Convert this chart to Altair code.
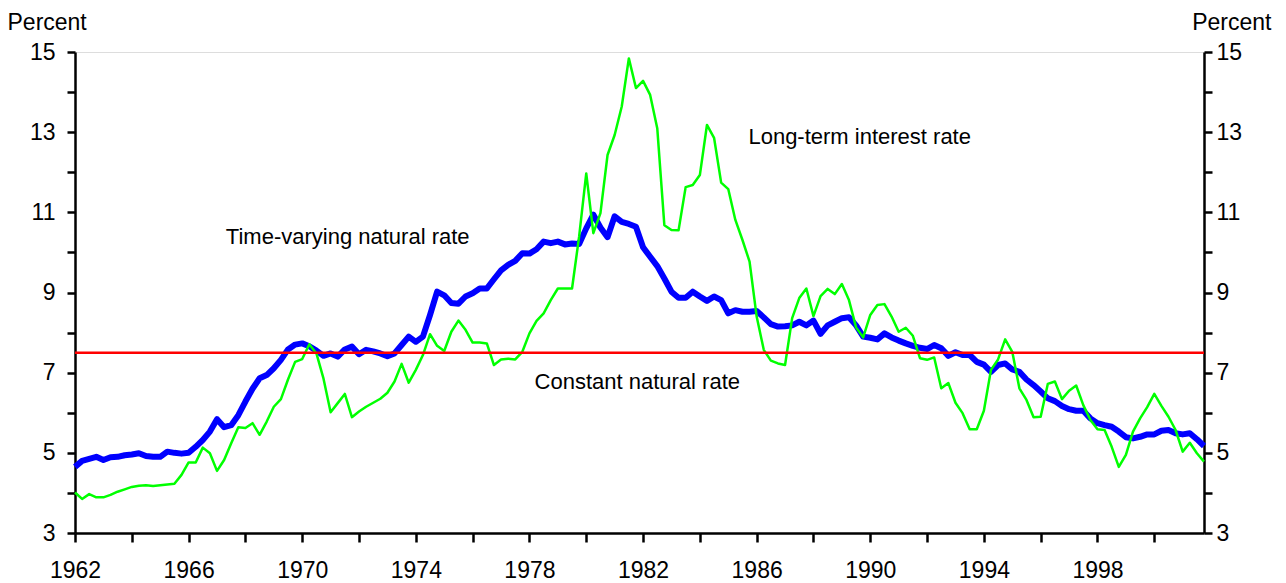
import altair as alt
import pandas as pd

# Quarterly observations, 1962Q1 .. 2001Q4 (x = year + (quarter-1)/4)
start_year = 1962
n_quarters = 160

time_varying_natural_rate = [
    4.65, 4.80, 4.85, 4.90,
    4.82, 4.89, 4.90, 4.94,
    4.96, 4.99, 4.92, 4.90,
    4.90, 5.03, 5.00, 4.98,
    5.00, 5.15, 5.32, 5.53,
    5.84, 5.64, 5.69, 5.94,
    6.28, 6.60, 6.86, 6.94,
    7.11, 7.32, 7.58, 7.70,
    7.73, 7.66, 7.55, 7.42,
    7.48, 7.40, 7.58, 7.65,
    7.46, 7.57, 7.53, 7.48,
    7.41, 7.48, 7.69, 7.90,
    7.77, 7.90, 8.44, 9.02,
    8.93, 8.74, 8.72, 8.90,
    8.98, 9.10, 9.10, 9.33,
    9.55, 9.69, 9.79, 9.98,
    9.97, 10.08, 10.27, 10.23,
    10.27, 10.20, 10.22, 10.21,
    10.60, 10.94, 10.62, 10.38,
    10.90, 10.76, 10.71, 10.64,
    10.13, 9.89, 9.66, 9.35,
    9.02, 8.87, 8.87, 9.02,
    8.90, 8.79, 8.90, 8.81,
    8.48, 8.56, 8.52, 8.52,
    8.54, 8.38, 8.21, 8.15,
    8.16, 8.18, 8.27, 8.18,
    8.30, 7.97, 8.18, 8.27,
    8.36, 8.38, 8.18, 7.90,
    7.87, 7.83, 7.98, 7.88,
    7.80, 7.73, 7.67, 7.62,
    7.59, 7.69, 7.61, 7.42,
    7.51, 7.44, 7.44, 7.27,
    7.20, 7.02, 7.19, 7.23,
    7.08, 7.02, 6.83, 6.69,
    6.53, 6.36, 6.29, 6.17,
    6.09, 6.05, 6.05, 5.86,
    5.74, 5.69, 5.65, 5.53,
    5.39, 5.36, 5.40, 5.46,
    5.46, 5.55, 5.57, 5.49,
    5.46, 5.49, 5.34, 5.17,
]

long_term_interest_rate = [
    4.01, 3.85, 3.97, 3.89,
    3.89, 3.95, 4.03, 4.09,
    4.15, 4.18, 4.19, 4.17,
    4.19, 4.21, 4.23, 4.45,
    4.76, 4.76, 5.13, 4.99,
    4.55, 4.82, 5.24, 5.64,
    5.62, 5.74, 5.45, 5.78,
    6.15, 6.34, 6.83, 7.27,
    7.34, 7.71, 7.48, 6.85,
    6.01, 6.24, 6.47, 5.89,
    6.03, 6.15, 6.25, 6.35,
    6.50, 6.78, 7.22, 6.75,
    7.07, 7.44, 7.96, 7.67,
    7.54, 8.02, 8.30, 8.07,
    7.75, 7.75, 7.73, 7.19,
    7.33, 7.35, 7.33, 7.52,
    7.98, 8.29, 8.48, 8.81,
    9.10, 9.10, 9.10, 10.40,
    11.97, 10.48, 10.98, 12.43,
    12.93, 13.64, 14.84, 14.10,
    14.28, 13.93, 13.10, 10.68,
    10.56, 10.55, 11.63, 11.68,
    11.93, 13.18, 12.86, 11.74,
    11.58, 10.81, 10.31, 9.77,
    8.40, 7.57, 7.30, 7.23,
    7.19, 8.36, 8.86, 9.10,
    8.41, 8.91, 9.09, 8.96,
    9.21, 8.81, 8.13, 7.88,
    8.44, 8.69, 8.71, 8.40,
    8.02, 8.12, 7.92, 7.36,
    7.32, 7.38, 6.61, 6.74,
    6.25, 5.99, 5.59, 5.59,
    6.05, 7.07, 7.33, 7.83,
    7.52, 6.61, 6.32, 5.89,
    5.90, 6.72, 6.78, 6.34,
    6.55, 6.68, 6.19, 5.82,
    5.59, 5.57, 5.15, 4.65,
    4.95, 5.53, 5.86, 6.14,
    6.47, 6.17, 5.90, 5.57,
    5.03, 5.25, 4.99, 4.78,
]

constant_natural_rate = [7.5]

label_texts = ["Long-term interest rate", "Time-varying natural rate", "Constant natural rate"]
label_x = [1985.71, 1967.31, 1978.18]
label_y = [12.71, 10.21, 6.59]

x_tick_values = list(range(1962, 2002))
y_tick_values = list(range(3, 16))

times = [start_year + q / 4 for q in range(n_quarters)]
df = pd.DataFrame({"t": times, "natural": time_varying_natural_rate, "longterm": long_term_interest_rate})
rule_df = pd.DataFrame({"rate": constant_natural_rate})
lab_df = pd.DataFrame({"label": label_texts, "lx": label_x, "ly": label_y})

FONT = "Liberation Sans"
xscale = alt.Scale(domain=[1962, 2001.75], nice=False, zero=False)
yscale = alt.Scale(domain=[3, 15], nice=False, zero=False)

xaxis = alt.Axis(
    values=x_tick_values,
    labelExpr="(datum.value - 1962) % 4 == 0 ? datum.label : ''",
    format="d", tickSize=9, tickWidth=2.5, tickColor="black",
    domainColor="black", domainWidth=2.5,
    labelFontSize=23, labelFont=FONT, labelColor="black", labelPadding=17,
    labelOverlap=False, labelFlush=False, labelBound=False,
    grid=False, title=None,
)

left_axis = alt.Axis(
    orient="left", values=y_tick_values,
    labelExpr="datum.value % 2 == 1 ? datum.label : ''",
    tickSize=8, tickWidth=2.5, tickColor="black",
    domainColor="black", domainWidth=2.5,
    labelFontSize=23, labelFont=FONT, labelColor="black", labelPadding=12,
    labelOverlap=False, labelFlush=False, labelBound=False, grid=False,
    title="Percent", titleAngle=0, titleAlign="left", titleBaseline="alphabetic",
    titleX=-68, titleY=-23, titleFontSize=23, titleFont=FONT,
    titleFontWeight="normal", titleColor="black",
)

right_axis = alt.Axis(
    orient="right", values=y_tick_values,
    labelExpr="datum.value % 2 == 1 ? datum.label : ''",
    tickSize=8, tickWidth=2.5, tickColor="black",
    domainColor="black", domainWidth=2.5,
    labelFontSize=23, labelFont=FONT, labelColor="black", labelPadding=4,
    labelOverlap=False, labelFlush=False, labelBound=False, grid=False,
    title="Percent", titleAngle=0, titleAlign="right", titleBaseline="alphabetic",
    titleX=67, titleY=-23, titleFontSize=23, titleFont=FONT,
    titleFontWeight="normal", titleColor="black",
)

base = alt.Chart(df)

blue = base.mark_line(color="#0000FF", strokeWidth=6, strokeJoin="round").encode(
    x=alt.X("t:Q", scale=xscale, axis=xaxis),
    y=alt.Y("natural:Q", scale=yscale, axis=left_axis),
)

green = base.mark_line(color="#00FF00", strokeWidth=2.5, strokeJoin="round").encode(
    x=alt.X("t:Q", scale=xscale),
    y=alt.Y("longterm:Q", scale=yscale, axis=right_axis),
)

red = alt.Chart(rule_df).mark_rule(color="#FF0000", strokeWidth=2.5).encode(
    y=alt.Y("rate:Q", scale=yscale, axis=None),
)

labels = alt.Chart(lab_df).mark_text(
    align="left", baseline="alphabetic", fontSize=22, font=FONT, color="black"
).encode(
    x=alt.X("lx:Q", scale=xscale),
    y=alt.Y("ly:Q", scale=yscale, axis=None),
    text="label:N",
)

chart = alt.layer(blue, green, red, labels).resolve_scale(y="independent").properties(
    width=1129, height=481,
    autosize=alt.AutoSizeParams(type="none"),
    padding={"left": 67, "top": 44, "right": 74, "bottom": 60},
).configure_view(stroke="black", strokeWidth=2.5).configure(background="white")

chart.save("out.html", embed_options={"renderer": "svg", "actions": False})
